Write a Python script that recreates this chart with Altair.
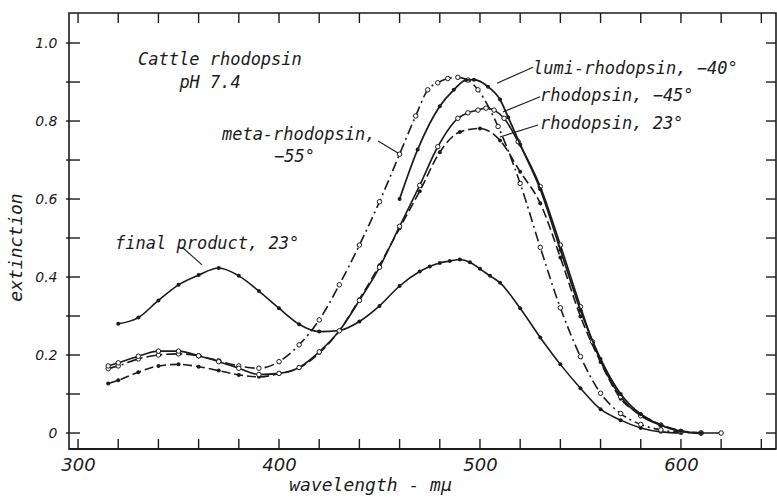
import altair as alt
import pandas as pd

# ---- absorption spectra (wavelength in m\u03bc, extinction) ----
final_wl = [320, 330, 340, 350, 360, 370, 380, 390, 400, 410, 420, 430, 440, 450, 460,
            470, 475, 480, 485, 490, 495, 500, 505, 510, 520, 530, 540, 550, 560, 570,
            580, 590, 600]
final_ext = [0.28, 0.296, 0.34, 0.38, 0.405, 0.423, 0.403, 0.364, 0.32, 0.279, 0.26,
             0.263, 0.286, 0.326, 0.377, 0.414, 0.427, 0.436, 0.441, 0.445, 0.438, 0.421,
             0.403, 0.385, 0.32, 0.245, 0.176, 0.115, 0.061, 0.033, 0.013, 0.003, 0.0]

meta_wl = [315, 320, 330, 340, 350, 360, 370, 380, 390, 400, 410, 420, 430, 440, 450,
           460, 468, 474, 479, 484, 489, 494, 499, 509, 520, 530, 540, 550, 560, 570,
           580, 590, 600, 610]
meta_ext = [0.165, 0.172, 0.19, 0.2, 0.203, 0.198, 0.185, 0.172, 0.166, 0.183, 0.226,
            0.29, 0.38, 0.482, 0.593, 0.715, 0.813, 0.88, 0.898, 0.909, 0.912, 0.905,
            0.88, 0.786, 0.64, 0.476, 0.321, 0.196, 0.102, 0.05, 0.022, 0.008, 0.002, 0.0]

lumi_wl = [460, 469, 480, 487, 493, 497, 504, 510, 514, 520, 530, 540, 550, 560, 570,
           580, 590, 600, 610]
lumi_ext = [0.6, 0.727, 0.838, 0.88, 0.905, 0.906, 0.888, 0.855, 0.81, 0.74, 0.625,
            0.47, 0.315, 0.19, 0.1, 0.048, 0.02, 0.005, 0.0]

rho_cold_wl = [315, 320, 330, 340, 350, 360, 370, 380, 390, 400, 410, 420, 430, 440,
               450, 460, 470, 479, 489, 494, 499, 503, 507, 512, 519, 530, 540, 550,
               556, 570, 580, 590, 600, 610, 620]
rho_cold_ext = [0.172, 0.18, 0.197, 0.21, 0.21, 0.198, 0.183, 0.166, 0.15, 0.153, 0.168,
                0.208, 0.262, 0.34, 0.425, 0.53, 0.635, 0.734, 0.807, 0.821, 0.828,
                0.833, 0.828, 0.807, 0.747, 0.632, 0.482, 0.324, 0.234, 0.093, 0.044,
                0.02, 0.004, 0.0, 0.0]

rho_warm_wl = [315, 320, 330, 340, 350, 360, 370, 380, 390, 400, 410, 420, 430, 440,
               450, 460, 470, 480, 490, 500, 510, 520, 530, 540, 550, 560, 570, 580,
               590, 600, 610]
rho_warm_ext = [0.127, 0.135, 0.156, 0.172, 0.176, 0.17, 0.16, 0.149, 0.144, 0.152,
                0.167, 0.205, 0.262, 0.343, 0.43, 0.525, 0.62, 0.72, 0.772, 0.781, 0.75,
                0.67, 0.589, 0.45, 0.299, 0.182, 0.088, 0.048, 0.022, 0.006, 0.0]

# ---- tick positions ----
x_ticks = list(range(300, 641, 20))
y_ticks = [0.0, 0.1, 0.2, 0.3, 0.4, 0.5, 0.6, 0.7, 0.8, 0.9, 1.0]
x_label_values = [300, 400, 500, 600]
y_label_values = [0.0, 0.2, 0.4, 0.6, 0.8, 1.0]

# ---- annotations ----
left_text = ["meta-rhodopsin,", "final product, 23\u00b0", "lumi-rhodopsin, \u221240\u00b0",
             "rhodopsin, \u221245\u00b0", "rhodopsin, 23\u00b0"]
left_text_wl = [371.6, 318.4, 526.4, 529.9, 529.9]
left_text_ext = [0.752, 0.472, 0.921, 0.851, 0.779]

center_text = ["Cattle rhodopsin", "pH 7.4", "\u221255\u00b0"]
center_text_wl = [370.6, 365.7, 407.7]
center_text_ext = [0.944, 0.885, 0.694]

leader_wl = [449.3, 351.7, 526.4, 529.9, 528.9]
leader_ext = [0.749, 0.477, 0.938, 0.862, 0.790]
leader_wl2 = [459.2, 361.7, 508.5, 511.4, 509.9]
leader_ext2 = [0.718, 0.431, 0.897, 0.823, 0.759]

INK = "#1b1b1b"
LETTER_FONT = "DejaVu Sans Mono"
NUM_FONT = "DejaVu Sans"
W, H = 707, 436

x_scale = alt.Scale(domain=[295.5, 647.3], nice=False, zero=False)
y_scale = alt.Scale(domain=[-0.041, 1.077], nice=False, zero=False)

x_axis = alt.Axis(
    values=x_label_values, ticks=False, domain=False, grid=False,
    labelFont=NUM_FONT, labelFontStyle="italic", labelFontSize=18, labelColor=INK,
    labelPadding=7, labelFlush=False,
    title="wavelength - m\u03bc", titleFont=LETTER_FONT, titleFontStyle="italic",
    titleFontSize=18, titleFontWeight="normal", titleColor=INK,
    titleX=301, titleY=41, titleBaseline="alphabetic", titleAlign="center",
)
y_axis = alt.Axis(
    values=y_label_values,
    labelExpr="datum.value == 0 ? '0' : format(datum.value, '.1f')",
    ticks=False, domain=False, grid=False,
    labelFont=NUM_FONT, labelFontStyle="italic", labelFontSize=14, labelColor=INK,
    labelPadding=12,
    title="extinction", titleFont=LETTER_FONT, titleFontStyle="italic",
    titleFontSize=18, titleFontWeight="normal", titleColor=INK,
    titleX=-53, titleY=234, titleAngle=270, titleAlign="center", titleBaseline="middle",
)


def X(field="wl"):
    return alt.X(f"{field}:Q", scale=x_scale, axis=x_axis)


def Y(field="ext"):
    return alt.Y(f"{field}:Q", scale=y_scale, axis=y_axis)


def spectrum(wl, ext, filled, dash=None, width=1.6):
    df = pd.DataFrame({"wl": wl, "ext": ext})
    base = alt.Chart(df).encode(x=X(), y=Y())
    line_kw = dict(color=INK, strokeWidth=width, interpolate="monotone")
    if dash:
        line_kw["strokeDash"] = dash
    line = base.mark_line(**line_kw)
    if filled:
        pts = base.mark_point(filled=True, color=INK, size=16, opacity=1)
    else:
        pts = base.mark_point(filled=True, fill="white", stroke=INK, strokeWidth=1,
                              size=20, opacity=1)
    return [line, pts]


layers = []
layers += spectrum(final_wl, final_ext, filled=True)
layers += spectrum(rho_warm_wl, rho_warm_ext, filled=True, dash=[9, 4])
layers += spectrum(meta_wl, meta_ext, filled=False, dash=[10, 4, 2, 4])
layers += spectrum(rho_cold_wl, rho_cold_ext, filled=False)
layers += spectrum(lumi_wl, lumi_ext, filled=True, width=1.8)

# inward tick marks on all four sides
xt = pd.DataFrame({"wl": x_ticks})
yt = pd.DataFrame({"ext": y_ticks})
layers.append(alt.Chart(xt).mark_rule(color=INK, strokeWidth=1.4).encode(
    x=X(), y=alt.value(0), y2=alt.value(10)))
layers.append(alt.Chart(xt).mark_rule(color=INK, strokeWidth=1.4).encode(
    x=X(), y=alt.value(H - 10), y2=alt.value(H)))
layers.append(alt.Chart(yt).mark_rule(color=INK, strokeWidth=1.4).encode(
    y=Y(), x=alt.value(-3), x2=alt.value(11)))
layers.append(alt.Chart(yt).mark_rule(color=INK, strokeWidth=1.4).encode(
    y=Y(), x=alt.value(W - 10), x2=alt.value(W)))

# heavier baseline along the wavelength axis
layers.append(alt.Chart(pd.DataFrame({"wl": [295.5], "wl2": [647.3]})).mark_rule(
    color=INK, strokeWidth=2.2).encode(x=X(), x2="wl2:Q", y=alt.value(H)))

# leader lines and labels
leaders = pd.DataFrame({"wl": leader_wl, "ext": leader_ext,
                        "wl2": leader_wl2, "ext2": leader_ext2})
layers.append(alt.Chart(leaders).mark_rule(color=INK, strokeWidth=1.1).encode(
    x=X(), y=Y(), x2="wl2:Q", y2="ext2:Q"))

text_kw = dict(font=LETTER_FONT, fontStyle="italic", fontSize=17, color=INK,
               baseline="alphabetic")
layers.append(alt.Chart(pd.DataFrame({"wl": left_text_wl, "ext": left_text_ext,
                                      "label": left_text}))
              .mark_text(align="left", **text_kw)
              .encode(x=X(), y=Y(), text="label:N"))
layers.append(alt.Chart(pd.DataFrame({"wl": center_text_wl, "ext": center_text_ext,
                                      "label": center_text}))
              .mark_text(align="center", **text_kw)
              .encode(x=X(), y=Y(), text="label:N"))

chart = (
    alt.layer(*layers)
    .properties(width=W, height=H,
                padding={"left": 69, "top": 13, "right": 1, "bottom": 48},
                autosize=alt.AutoSizeParams(type="none"),
                background="white")
    .configure_view(stroke=INK, strokeWidth=1.6)
)

chart.save("out.html", embed_options={"renderer": "svg", "actions": False})
